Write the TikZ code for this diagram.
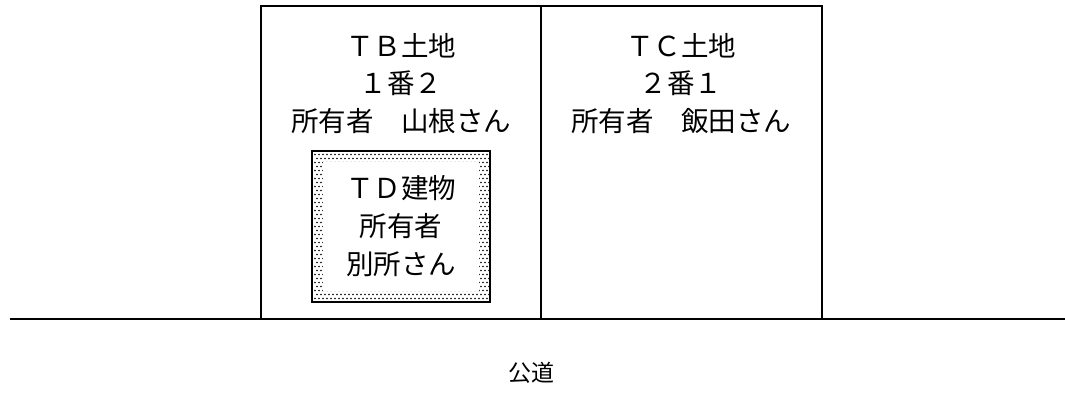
\documentclass[tikz,border=0pt]{standalone}
\usepackage{fontspec}
\setmainfont{Noto Sans CJK JP}
\tikzset{
  lot/.style={draw=black,line width=1.4pt},
  lbl/.style={font=\fontsize{27.5}{30}\selectfont,inner sep=0pt,anchor=center},
  road/.style={draw=black,line width=1.8pt},
}
\begin{document}
\begin{tikzpicture}[x=1pt,y=-1pt]
\useasboundingbox (0,0) rectangle (1065,412);
% lots
\draw[lot] (261,6) rectangle (541,319);
\draw[lot] (541,6) rectangle (822,319);
% road
\coordinate (rl) at (10,319);
\coordinate (rr) at (1065,319);
\draw[road] (rl) -- (rr);
% building dotted band
\foreach \i in {0,...,43} {
  \foreach \j in {0,...,36} {
    \fill[black] ({315+4*\i+2*mod(\j,2)},{154.5+4*\j}) circle (0.8pt);
  }
}
\fill[white] (323,162) rectangle (479,291);
\draw[line width=1.8pt] (312,151) rectangle (490,302);
% texts
\node[lbl] (b1) at (401,46) {ＴＢ土地};
\node[lbl] (b2) at (401,83) {１番２};
\node[lbl] (b3) at (401,121) {所有者　山根さん};
\node[lbl] (c1) at (681,46) {ＴＣ土地};
\node[lbl] (c2) at (681,83) {２番１};
\node[lbl] (c3) at (681,121) {所有者　飯田さん};
\node[lbl] (d1) at (401,188) {ＴＤ建物};
\node[lbl] (d2) at (401,226) {所有者};
\node[lbl] (d3) at (401,264) {別所さん};
\node[lbl,font=\fontsize{23}{24}\selectfont] (p) at (531,373) {公道};
\end{tikzpicture}
\end{document}
